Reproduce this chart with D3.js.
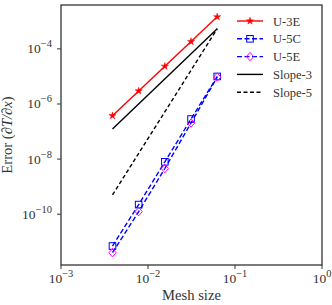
<!DOCTYPE html>
<html>
<head>
<meta charset="utf-8">
<script src="https://cdn.jsdelivr.net/npm/d3@7"></script>
<style>
  body { margin: 0; background: #fff; }
  svg text { font-family: "Liberation Serif", "DejaVu Serif", serif; fill: #333; }
</style>
</head>
<body>
<script>
let w = 332;
let h = 305;

// mesh sizes
let meshSize = [1 / 256, 1 / 128, 1 / 64, 1 / 32, 1 / 16];
let errU3E = [3.76e-7, 2.97e-6, 2.33e-5, 1.84e-4, 1.46e-3];
let errU5C = [7.0e-12, 2.23e-10, 7.98e-9, 2.85e-7, 1.0e-5];
let errU5E = [4.0e-12, 1.24e-10, 4.55e-9, 2.04e-7, 9.5e-6];
let slopeX = [1 / 256, 1 / 16];
let slope3 = [1.23e-7, 5.4e-4];
let slope5 = [5.0e-10, 5.4e-4];

let xTicks = [1e-3, 1e-2, 1e-1, 1];
let xTickExp = ["\u22123", "\u22122", "\u22121", "0"];
let yTicks = [1e-4, 1e-6, 1e-8, 1e-10];
let yTickExp = ["\u22124", "\u22126", "\u22128", "\u221210"];

let pLeft = 61, pRight = 322, pTop = 5, pBottom = 265;

let x = d3.scaleLog().domain([1e-3, 1]).range([pLeft, pRight]);
let y = d3.scaleLog().domain([Math.pow(10, -11.844), Math.pow(10, -2.407)]).range([pBottom, pTop]);

let svg = d3.select("body").append("svg").attr("width", w).attr("height", h);

let series = [
  { name: "U-3E", xs: meshSize, ys: errU3E, color: "#ff0000", dash: null, marker: "star", mcolor: "#ff0000" },
  { name: "U-5C", xs: meshSize, ys: errU5C, color: "#0000ff", dash: "5,2.5", marker: "square", mcolor: "#0000ff" },
  { name: "U-5E", xs: meshSize, ys: errU5E, color: "#0000ff", dash: "5,2.5", marker: "diamond", mcolor: "#ff00ff" },
  { name: "Slope-3", xs: slopeX, ys: slope3, color: "#000", dash: null, marker: null },
  { name: "Slope-5", xs: slopeX, ys: slope5, color: "#000", dash: "4,2.5", marker: null }
];

let line = d3.line().x((d) => x(d[0])).y((d) => y(d[1]));

function drawMarker(g, type, color, cx, cy) {
  if (type == "star") {
    g.append("path")
      .attr("d", d3.symbol().type(d3.symbolStar).size(16)())
      .attr("transform", "translate(" + cx + "," + cy + ")")
      .attr("fill", color).attr("stroke", color).attr("stroke-width", 0.5);
  } else if (type == "square") {
    g.append("rect")
      .attr("x", cx - 3.3).attr("y", cy - 3.3).attr("width", 6.6).attr("height", 6.6)
      .attr("fill", "none").attr("stroke", color).attr("stroke-width", 1);
  } else if (type == "diamond") {
    g.append("path")
      .attr("d", "M0,-4.2L3.6,0L0,4.2L-3.6,0Z")
      .attr("transform", "translate(" + cx + "," + cy + ")")
      .attr("fill", "none").attr("stroke", color).attr("stroke-width", 1);
  }
}

let plot = svg.append("g");
series.forEach((s) => {
  let pts = s.xs.map((v, i) => [v, s.ys[i]]);
  plot.append("path")
    .attr("d", line(pts))
    .attr("fill", "none")
    .attr("stroke", s.color)
    .attr("stroke-width", 1.4)
    .attr("stroke-dasharray", s.dash);
  if (s.marker) {
    pts.forEach((p) => drawMarker(plot, s.marker, s.mcolor, x(p[0]), y(p[1])));
  }
});

// frame
svg.append("rect")
  .attr("x", pLeft).attr("y", pTop)
  .attr("width", pRight - pLeft).attr("height", pBottom - pTop)
  .attr("fill", "none").attr("stroke", "#333").attr("stroke-width", 1.3);

// x ticks
let xg = svg.append("g");
xTicks.forEach((t, i) => {
  xg.append("line").attr("x1", x(t)).attr("x2", x(t)).attr("y1", pBottom).attr("y2", pBottom + 4)
    .attr("stroke", "#333").attr("stroke-width", 1);
  let tx = xg.append("text").attr("x", x(t)).attr("y", 283).attr("text-anchor", "middle")
    .style("font-size", "13.5px");
  tx.append("tspan").text("10");
  tx.append("tspan").attr("dy", -6).style("font-size", "10.5px").text(xTickExp[i]);
});

// y ticks
let yg = svg.append("g");
yTicks.forEach((t, i) => {
  yg.append("line").attr("x1", pLeft - 4).attr("x2", pLeft).attr("y1", y(t)).attr("y2", y(t))
    .attr("stroke", "#333").attr("stroke-width", 1);
  let ty = yg.append("text").attr("x", pLeft - 9).attr("y", y(t) + 4.5).attr("text-anchor", "end")
    .style("font-size", "13.5px");
  ty.append("tspan").text("10");
  ty.append("tspan").attr("dy", -6).style("font-size", "10.5px").text(yTickExp[i]);
});

// axis labels
svg.append("text").attr("x", (pLeft + pRight) / 2).attr("y", 300).attr("text-anchor", "middle")
  .style("font-size", "14.6px").text("Mesh size");

let yl = svg.append("text").attr("transform", "translate(12," + (pTop + pBottom) / 2 + ") rotate(-90)")
  .attr("text-anchor", "middle").style("font-size", "14.6px");
yl.append("tspan").text("Error (");
yl.append("tspan").style("font-style", "italic").text("\u2202T/\u2202x");
yl.append("tspan").text(")");

// legend
let lg = svg.append("g");
series.forEach((s, i) => {
  let ly = 21 + i * 17.8;
  lg.append("line").attr("x1", 237).attr("x2", 263).attr("y1", ly).attr("y2", ly)
    .attr("stroke", s.color).attr("stroke-width", 1.4).attr("stroke-dasharray", s.dash);
  if (s.marker) drawMarker(lg, s.marker, s.mcolor, 250, ly);
  lg.append("text").attr("x", 273).attr("y", ly + 4.5).style("font-size", "12.5px").text(s.name);
});
</script>
</body>
</html>
